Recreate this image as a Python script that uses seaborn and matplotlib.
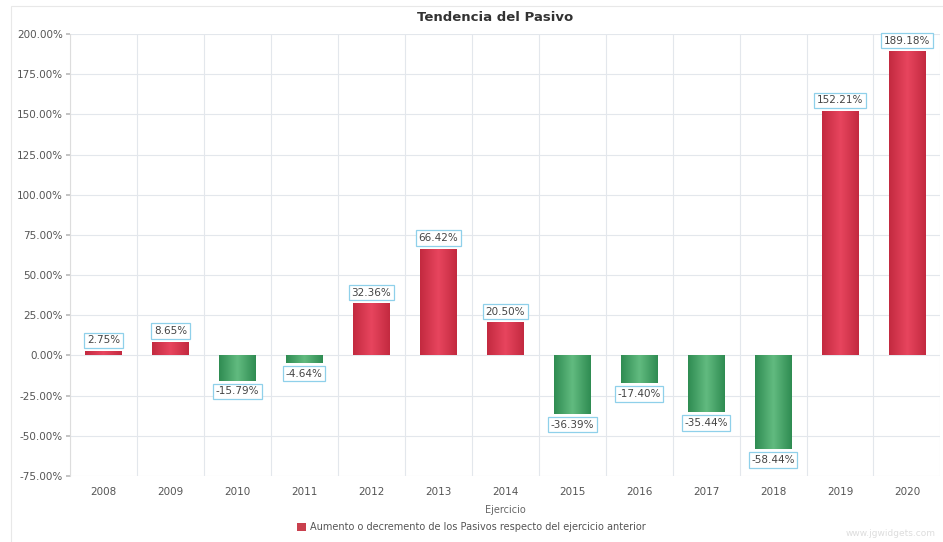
import matplotlib
matplotlib.use("Agg")
import matplotlib.pyplot as plt
import seaborn as sns
import pandas as pd
import numpy as np
from matplotlib.patches import Patch, Rectangle
from matplotlib.colors import LinearSegmentedColormap

years = ["2008", "2009", "2010", "2011", "2012", "2013", "2014",
         "2015", "2016", "2017", "2018", "2019", "2020"]
values = [2.75, 8.65, -15.79, -4.64, 32.36, 66.42, 20.50,
          -36.39, -17.40, -35.44, -58.44, 152.21, 189.18]
yticks = [200, 175, 150, 125, 100, 75, 50, 25, 0, -25, -50, -75]

RED = "#d93048"
GREEN = "#3c9e60"

sns.set_theme(style="white")
plt.rcParams['font.family'] = ['DejaVu Sans']

df = pd.DataFrame({"year": years, "value": values})
colors = [RED if v >= 0 else GREEN for v in values]

fig = plt.figure(figsize=(9.43, 5.42), dpi=100)
ax = fig.add_axes([0.0742, 0.1218, 0.9231, 0.8155])

sns.barplot(data=df, x="year", y="value", hue="year", palette=colors,
            legend=False, width=0.54, ax=ax, saturation=1,
            edgecolor="none")

ax.set_ylim(-75, 200)
ax.set_xlim(-0.5, len(years) - 0.5)

# gradient shading on bars
red_cmap = LinearSegmentedColormap.from_list("r", ["#c32a40", "#e8455e", "#c32a40"])
green_cmap = LinearSegmentedColormap.from_list("g", ["#2f8c52", "#62bb80", "#2f8c52"])
grad = np.linspace(0, 1, 64).reshape(1, -1)
for p, v in zip(ax.patches, values):
    x0, y0 = p.get_x(), p.get_y()
    w, h = p.get_width(), p.get_height()
    ylo, yhi = min(y0, y0 + h), max(y0, y0 + h)
    im = ax.imshow(grad, cmap=red_cmap if v >= 0 else green_cmap, aspect="auto",
                   extent=(x0, x0 + w, ylo, yhi), zorder=p.get_zorder() + 0.1,
                   interpolation="bicubic")
    im.set_clip_path(p)
ax.set_ylim(-75, 200)
ax.set_xlim(-0.5, len(years) - 0.5)

ax.set_yticks(yticks)
ax.set_yticklabels([f"{t:.2f}%" for t in yticks], fontsize=7.5, color="#555555")
ax.tick_params(axis="x", labelsize=7.5, colors="#555555", length=0, pad=8)
ax.tick_params(axis="y", length=3, color="#bbbbbb", left=True, pad=2)
ax.set_xticks(range(len(years)))
ax.set_xticklabels(years)

# grid
for t in yticks:
    ax.axhline(t, color="#e3e7ec", lw=0.8, zorder=0)
for i in range(len(years) + 1):
    ax.axvline(i - 0.5, color="#e3e7ec", lw=0.8, zorder=0)
for s in ax.spines.values():
    s.set_visible(False)
ax.spines["left"].set_visible(True)
ax.spines["left"].set_color("#dddddd")
ax.spines["left"].set_linewidth(0.8)

# value labels
for i, v in enumerate(values):
    off = 3.5 if v >= 0 else -3.5
    va = "bottom" if v >= 0 else "top"
    ax.text(i, v + off, f"{v:.2f}%", ha="center", va=va, fontsize=7.5,
            color="#444444",
            bbox=dict(boxstyle="square,pad=0.25", fc="white", ec="#8fd0ea", lw=0.9),
            zorder=5)

ax.set_xlabel("Ejercicio", fontsize=7, color="#666666", labelpad=6)
ax.set_ylabel("")

fig.text(0.525, 0.967, "Tendencia del Pasivo", ha="center", va="center",
         fontsize=9.5, fontweight="bold", color="#333333")

leg = fig.legend(handles=[Patch(facecolor="#c9404e", edgecolor="none")],
                 labels=["Aumento o decremento de los Pasivos respecto del ejercicio anterior"],
                 loc="center", bbox_to_anchor=(0.5, 0.027), frameon=False,
                 fontsize=7, handlelength=0.9, handleheight=0.9, handletextpad=0.5)
for t in leg.get_texts():
    t.set_color("#555555")

fig.text(0.992, 0.015, "www.jgwidgets.com", ha="right", va="center",
         fontsize=6.5, color="#dddddd")

# outer frame
fig.patches.append(Rectangle((0.012, -0.01), 1.0, 0.999, transform=fig.transFigure,
                             fill=False, ec="#e8e8e8", lw=0.8))

fig.savefig("out.png", dpi=100, facecolor="white")
